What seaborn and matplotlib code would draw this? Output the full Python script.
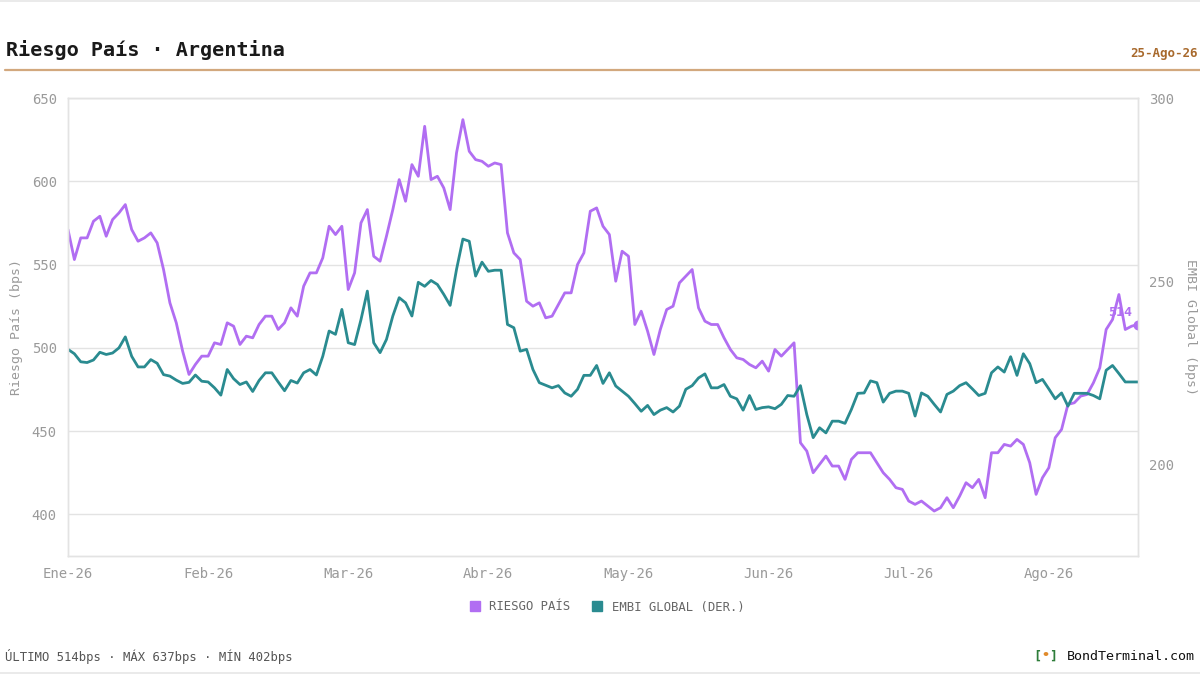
import pandas as pd
import matplotlib
matplotlib.use("Agg")
import matplotlib.pyplot as plt
import seaborn as sns
from matplotlib.lines import Line2D

# -------------------------
# Data (one value per trading day)
# -------------------------

riesgo_pais = [
    571, 553, 566, 566, 576, 579, 567, 577, 581, 586,
    571, 564, 566, 569, 563, 547, 527, 515, 498, 484,
    490, 495, 495, 503, 502, 515, 513, 502, 507, 506,
    514, 519, 519, 511, 515, 524, 519, 537, 545, 545,
    554, 573, 568, 573, 535, 545, 575, 583, 555, 552,
    567, 583, 601, 588, 610, 603, 633, 601, 603, 596,
    583, 617, 637, 618, 613, 612, 609, 611, 610, 569,
    557, 553, 528, 525, 527, 518, 519, 526, 533, 533,
    550, 557, 582, 584, 573, 568, 540, 558, 555, 514,
    522, 510, 496, 511, 523, 525, 539, 543, 547, 524,
    516, 514, 514, 506, 499, 494, 493, 490, 488, 492,
    486, 499, 495, 499, 503, 443, 438, 425, 430, 435,
    429, 429, 421, 433, 437, 437, 437, 431, 425, 421,
    416, 415, 408, 406, 408, 405, 402, 404, 410, 404,
    411, 419, 416, 421, 410, 437, 437, 442, 441, 445,
    442, 431, 412, 422, 428, 446, 451, 466, 467, 471,
    472, 479, 488, 511, 517, 532, 511, 513, 514,
]

embi_global = [
    231.4, 230.2, 228.0, 227.8, 228.5, 230.6, 230.0, 230.4, 231.8, 234.8,
    229.5, 226.6, 226.6, 228.6, 227.6, 224.5, 224.1, 223.0, 222.1, 222.4,
    224.4, 222.7, 222.5, 220.9, 218.9, 225.9, 223.4, 221.8, 222.5, 219.9,
    222.9, 225.0, 225.0, 222.5, 220.1, 222.9, 222.2, 225.0, 225.9, 224.4,
    229.5, 236.4, 235.5, 242.3, 233.2, 232.7, 239.5, 247.3, 233.2, 230.5,
    234.1, 240.5, 245.5, 244.1, 240.5, 249.7, 248.6, 250.2, 249.1, 246.4,
    243.4, 253.2, 261.5, 260.9, 251.4, 255.2, 252.7, 253.0, 253.0, 238.2,
    237.3, 230.9, 231.4, 225.9, 222.3, 221.6, 220.9, 221.5, 219.5, 218.6,
    220.5, 224.3, 224.3, 227.0, 222.1, 225.0, 221.4, 220.0, 218.6, 216.6,
    214.5, 216.1, 213.6, 214.8, 215.5, 214.3, 215.9, 220.5, 221.5, 223.6,
    224.7, 220.9, 220.9, 221.8, 218.6, 217.9, 214.8, 218.8, 215.0, 215.5,
    215.7, 215.2, 216.4, 218.8, 218.6, 221.5, 213.6, 207.3, 210.0, 208.6,
    211.8, 211.8, 211.2, 215.0, 219.4, 219.5, 222.8, 222.3, 217.0, 219.4,
    220.0, 220.0, 219.4, 213.2, 219.5, 218.6, 216.4, 214.3, 219.1, 220.0,
    221.5, 222.3, 220.6, 218.8, 219.4, 225.0, 226.6, 225.2, 229.4, 224.3,
    230.2, 227.5, 222.3, 223.2, 220.6, 217.9, 219.5, 215.9, 219.4, 219.4,
    219.4, 218.8, 217.9, 225.7, 227.0, 224.8, 222.5, 222.5, 222.5,
]

month_labels = ["Ene-26", "Feb-26", "Mar-26", "Abr-26", "May-26", "Jun-26", "Jul-26", "Ago-26"]
days_per_tick = 22
left_ticks = [400, 450, 500, 550, 600, 650]
right_ticks = [200, 250, 300]
fecha = "25-Ago-26"

PURPLE = "#b16ef2"
TEAL = "#2a8b90"
GRID = "#e3e3e3"
TICK = "#9a9a9a"

df = pd.DataFrame({
    "dia": range(len(riesgo_pais)),
    "riesgo": riesgo_pais,
    "embi": embi_global,
})

# -------------------------
# Figure
# -------------------------

sns.set_theme(style="white")
plt.rcParams["font.family"] = ["DejaVu Sans Mono", "DejaVu Sans"]

fig = plt.figure(figsize=(12, 6.75), dpi=100)
ax = fig.add_axes([68 / 1200, 1 - 556 / 675, 1070 / 1200, 458 / 675])
ax2 = ax.twinx()

sns.lineplot(data=df, x="dia", y="riesgo", ax=ax, color=PURPLE, linewidth=2)
sns.lineplot(data=df, x="dia", y="embi", ax=ax2, color=TEAL, linewidth=2)

# last value marker + label
last = df.iloc[-1]
ax.scatter([last["dia"]], [last["riesgo"]], s=38, color=PURPLE, zorder=5)
ax.annotate(f"{int(last['riesgo'])}", xy=(last["dia"], last["riesgo"]),
            xytext=(-13, 9), textcoords="offset points", ha="center", va="center",
            fontsize=9.5, color=PURPLE, fontweight="bold")

ax.set_xlim(0, len(df) - 1)
ax.set_ylim(375, 650)
ax2.set_ylim(175, 300)

ax.set_xticks(range(0, len(df), days_per_tick)[:len(month_labels)])
ax.set_xticklabels(month_labels)
ax.set_yticks(left_ticks)
ax2.set_yticks(right_ticks)

ax.grid(axis="y", color=GRID, linewidth=1)
ax.grid(axis="x", visible=False)
ax2.grid(False)
ax.set_xlabel("")
ax.set_ylabel("")
ax2.set_ylabel("")

for a in (ax, ax2):
    a.tick_params(length=0, labelsize=10, colors=TICK, pad=8)
    for s in a.spines.values():
        s.set_color(GRID)
        s.set_linewidth(1)

# axis titles
fig.text(17 / 1200, 1 - 327 / 675, "Riesgo País (bps)", rotation=90,
         ha="center", va="center", fontsize=9.5, color=TICK)
fig.text(1190 / 1200, 1 - 327 / 675, "EMBI Global (bps)", rotation=270,
         ha="center", va="center", fontsize=9.5, color=TICK)

# header
fig.text(6 / 1200, 1 - 50 / 675, "Riesgo País · Argentina", ha="left", va="center",
         fontsize=14.5, fontweight="bold", color="#1a1a1a")
fig.text(1198 / 1200, 1 - 54 / 675, fecha, ha="right", va="center",
         fontsize=9, fontweight="bold", color="#a8692c")
fig.add_artist(Line2D([5 / 1200, 1], [1 - 70 / 675] * 2, color="#d2a87e", linewidth=1.6))
fig.add_artist(Line2D([0, 1], [1 - 1 / 675] * 2, color="#e6e6e6", linewidth=1.2))
fig.add_artist(Line2D([0, 1], [1 - 673 / 675] * 2, color="#e6e6e6", linewidth=1.2))

# legend
handles = [
    Line2D([], [], marker="s", linestyle="", color=PURPLE, markersize=6.5, label="RIESGO PAÍS"),
    Line2D([], [], marker="s", linestyle="", color=TEAL, markersize=6.5, label="EMBI GLOBAL (DER.)"),
]
fig.legend(handles=handles, loc="center", bbox_to_anchor=(0.503, 1 - 607 / 675), ncol=2,
           frameon=False, fontsize=8.8, handletextpad=0.2, columnspacing=1.2,
           labelcolor="#666666")

# footer
resumen = f"ÚLTIMO {riesgo_pais[-1]}bps · MÁX {max(riesgo_pais)}bps · MÍN {min(riesgo_pais)}bps"
fig.text(5 / 1200, 1 - 657 / 675, resumen, ha="left", va="center", fontsize=8.8, color="#555555")

brand_y = 1 - 656 / 675
fig.text(1033 / 1200, brand_y, "[", ha="left", va="center", fontsize=9.6,
         color="#2e7d3a", fontweight="bold")
fig.text(1045 / 1200, brand_y, "•", ha="center", va="center", fontsize=9.6,
         color="#e08a2c", fontweight="bold")
fig.text(1049 / 1200, brand_y, "]", ha="left", va="center", fontsize=9.6,
         color="#2e7d3a", fontweight="bold")
fig.text(1195 / 1200, brand_y, "BondTerminal.com", ha="right", va="center",
         fontsize=9.6, color="#111111")

fig.savefig("out.png", dpi=100)
